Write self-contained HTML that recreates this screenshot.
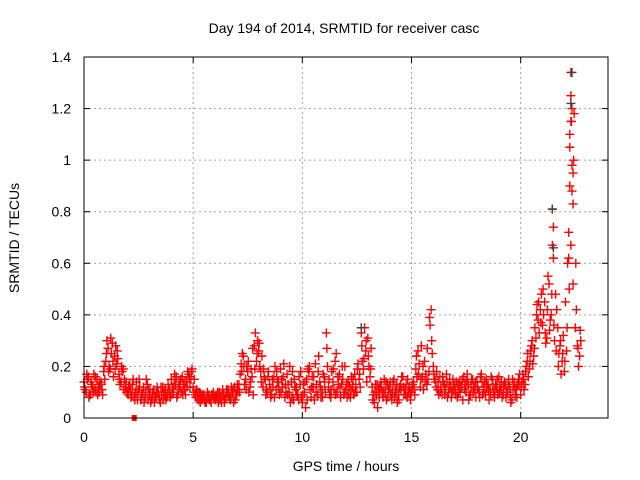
<!DOCTYPE html>
<html><head><meta charset="utf-8"><style>
body{margin:0;background:#fff}
svg{display:block;font-family:"Liberation Sans",sans-serif}
</style></head><body>
<svg id="chart" width="640" height="480" viewBox="0 0 640 480" xmlns="http://www.w3.org/2000/svg">
<rect width="640" height="480" fill="#fff"/>
<text x="344" y="33" font-size="14" text-anchor="middle" fill="#000">Day 194 of 2014, SRMTID for receiver casc</text>
<text transform="translate(19,238) rotate(-90)" font-size="14" text-anchor="middle">SRMTID / TECUs</text>
<text x="346" y="471" font-size="14" text-anchor="middle">GPS time / hours</text>
<g id="grid"></g>
<g id="ticks"></g>
<g id="marks"></g>
<rect x="84" y="57" width="524" height="361" fill="none" stroke="#000" stroke-width="1"/>
</svg>
<script>
const xTicks=[0,5,10,15,20];
const yTicks=[0,0.2,0.4,0.6,0.8,1,1.2,1.4];
const yTickLabels=["0","0.2","0.4","0.6","0.8","1","1.2","1.4"];
const seriesAStart=0, seriesBStart=0.05, seriesCStart=0.025, step=0.1;
const seriesA=[0.14,0.10,0.16,0.09,0.12,0.11,0.15,0.10,0.13,0.18,
0.22,0.27,0.19,0.29,0.24,0.21,0.17,0.14,0.19,0.12,
0.10,0.13,0.09,0.08,0.14,0.11,0.07,0.10,0.08,0.13,
0.09,0.07,0.11,0.08,0.10,0.06,0.12,0.09,0.08,0.11,
0.15,0.10,0.13,0.09,0.12,0.16,0.11,0.14,0.17,0.15,
0.12,0.09,0.08,0.10,0.07,0.09,0.06,0.08,0.07,0.09,
0.07,0.08,0.10,0.06,0.09,0.08,0.11,0.07,0.10,0.12,
0.09,0.13,0.21,0.24,0.15,0.18,0.12,0.16,0.28,0.22,
0.26,0.18,0.12,0.15,0.10,0.13,0.09,0.16,0.11,0.14,
0.19,0.12,0.08,0.17,0.10,0.14,0.07,0.11,0.09,0.13,
0.06,0.10,0.15,0.18,0.08,0.12,0.21,0.09,0.14,0.11,
0.16,0.33,0.12,0.08,0.14,0.22,0.10,0.17,0.13,0.09,
0.11,0.14,0.08,0.12,0.17,0.10,0.15,0.33,0.19,0.26,
0.31,0.16,0.12,0.06,0.09,0.11,0.14,0.08,0.10,0.13,
0.12,0.07,0.15,0.10,0.09,0.13,0.16,0.11,0.08,0.12,
0.10,0.14,0.19,0.26,0.12,0.16,0.22,0.13,0.18,0.42,
0.20,0.14,0.11,0.16,0.09,0.13,0.17,0.10,0.12,0.15,
0.11,0.08,0.14,0.12,0.16,0.10,0.13,0.09,0.15,0.11,
0.14,0.10,0.17,0.12,0.09,0.13,0.11,0.15,0.08,0.12,
0.16,0.11,0.09,0.13,0.10,0.12,0.07,0.14,0.11,0.15,
0.09,0.17,0.13,0.22,0.19,0.28,0.24,0.31,0.38,0.42,
0.36,0.45,0.31,0.52,0.40,0.62,0.48,0.35,0.28,0.22,
0.18,0.26,0.72,1.25,0.95,0.35,0.28,0.24];
const seriesB=[0.11,0.15,0.09,0.13,0.17,0.10,0.12,0.14,0.09,0.15,
0.30,0.20,0.25,0.16,0.28,0.23,0.13,0.18,0.15,0.10,
0.12,0.08,0.15,0.10,0.07,0.12,0.09,0.06,0.15,0.11,
0.06,0.10,0.08,0.12,0.07,0.09,0.10,0.07,0.13,0.08,
0.12,0.17,0.08,0.14,0.10,0.13,0.09,0.18,0.12,0.19,
0.15,0.11,0.07,0.09,0.08,0.06,0.10,0.07,0.09,0.08,
0.09,0.06,0.08,0.11,0.07,0.10,0.08,0.12,0.06,0.09,
0.11,0.17,0.25,0.13,0.20,0.10,0.19,0.09,0.33,0.30,
0.20,0.24,0.16,0.11,0.18,0.08,0.12,0.20,0.14,0.09,
0.15,0.21,0.10,0.13,0.06,0.18,0.12,0.09,0.16,0.08,
0.13,0.04,0.19,0.11,0.16,0.07,0.13,0.24,0.08,0.17,
0.10,0.20,0.09,0.18,0.11,0.25,0.13,0.08,0.15,0.20,
0.08,0.12,0.16,0.09,0.13,0.21,0.12,0.22,0.35,0.14,
0.20,0.27,0.09,0.13,0.04,0.12,0.10,0.15,0.07,0.11,
0.09,0.14,0.11,0.06,0.12,0.16,0.09,0.13,0.10,0.07,
0.13,0.09,0.16,0.21,0.28,0.11,0.17,0.15,0.36,0.25,
0.15,0.18,0.09,0.12,0.14,0.11,0.08,0.15,0.10,0.13,
0.14,0.10,0.12,0.07,0.13,0.17,0.09,0.15,0.12,0.08,
0.11,0.16,0.09,0.14,0.12,0.07,0.16,0.10,0.13,0.09,
0.12,0.08,0.14,0.10,0.15,0.06,0.11,0.09,0.13,0.17,
0.14,0.11,0.20,0.16,0.26,0.21,0.35,0.44,0.33,0.48,
0.40,0.29,0.55,0.38,0.67,0.30,0.42,0.25,0.17,0.32,
0.45,0.60,1.10,0.88,1.18,0.42,0.20,0.30];
const seriesC=[0.12,0.17,0.08,0.14,0.10,0.16,0.09,0.13,0.11,0.20,
0.25,0.18,0.31,0.22,0.19,0.26,0.15,0.20,0.11,0.14,
0.09,0.11,0.13,0.07,0.10,0.15,0.08,0.12,0.10,0.07,
0.11,0.08,0.06,0.10,0.09,0.12,0.07,0.11,0.09,0.10,
0.09,0.13,0.16,0.11,0.15,0.09,0.14,0.12,0.16,0.18,
0.10,0.08,0.10,0.06,0.09,0.07,0.08,0.09,0.06,0.10,
0.08,0.10,0.07,0.09,0.06,0.11,0.09,0.08,0.11,0.07,
0.13,0.10,0.18,0.20,0.11,0.22,0.14,0.27,0.19,0.25,
0.29,0.14,0.19,0.09,0.16,0.11,0.15,0.08,0.18,0.12,
0.10,0.16,0.13,0.09,0.20,0.08,0.15,0.12,0.07,0.18,
0.09,0.14,0.07,0.20,0.12,0.16,0.10,0.18,0.12,0.08,
0.14,0.27,0.15,0.11,0.19,0.09,0.16,0.12,0.20,0.10,
0.13,0.09,0.11,0.15,0.10,0.19,0.17,0.28,0.23,0.30,
0.24,0.19,0.07,0.10,0.13,0.08,0.12,0.10,0.14,0.08,
0.14,0.10,0.08,0.13,0.07,0.11,0.12,0.09,0.15,0.10,
0.12,0.11,0.24,0.17,0.15,0.20,0.14,0.27,0.39,0.30,
0.17,0.12,0.14,0.10,0.16,0.09,0.14,0.12,0.08,0.11,
0.09,0.13,0.10,0.15,0.11,0.14,0.07,0.12,0.10,0.14,
0.12,0.08,0.14,0.10,0.15,0.11,0.09,0.13,0.11,0.15,
0.10,0.14,0.12,0.08,0.13,0.09,0.15,0.12,0.08,0.13,
0.12,0.15,0.18,0.25,0.22,0.30,0.27,0.40,0.45,0.37,
0.50,0.33,0.42,0.34,0.48,0.36,0.26,0.20,0.30,0.25,
0.22,0.35,0.50,1.15,1.00,0.60,0.27,0.34];
const extraHours=[21.45,21.5,22.3,22.25,22.35,22.4,22.2,22.3,22.35,22.3,22.4,22.25];
const extraValues=[0.81,0.74,1.34,1.05,0.98,0.83,0.62,0.67,1.20,1.15,0.52,0.90];
const grayHours=[21.45,22.35,12.7,21.5,22.3];
const grayValues=[0.81,1.34,0.35,0.66,1.22];
const zeroHours=[2.3];
const zeroValues=[0];

const NS="http://www.w3.org/2000/svg";
const X0=84,X1=608,Y0=418,Y1=57,XMAX=24,YMAX=1.4;
function sx(h){return X0+h/XMAX*(X1-X0);}
function sy(v){return Y0-v/YMAX*(Y0-Y1);}
function mk(tag,attrs,parent){const e=document.createElementNS(NS,tag);for(const k in attrs)e.setAttribute(k,attrs[k]);parent.appendChild(e);return e;}
const grid=document.getElementById('grid'),ticks=document.getElementById('ticks'),marks=document.getElementById('marks');
xTicks.forEach(t=>{
  const x=sx(t);
  if(t>0){const g=mk('line',{x1:x,y1:Y1,x2:x,y2:Y0,stroke:'#a0a0a0','stroke-dasharray':'2,3'},grid);
  
  }
  mk('line',{x1:x,y1:Y0,x2:x,y2:Y0-6,stroke:'#000'},ticks);
  mk('line',{x1:x,y1:Y1,x2:x,y2:Y1+6,stroke:'#000'},ticks);
  const l=mk('text',{x:x,y:Y0+24,'font-size':14,'text-anchor':'middle'},ticks);l.textContent=t;
  
  
});
yTicks.forEach((t,i)=>{
  const y=sy(t);
  if(t>0&&t<YMAX){const g=mk('line',{x1:X0,y1:y,x2:X1,y2:y,stroke:'#a0a0a0','stroke-dasharray':'2,3'},grid);
  
  }
  mk('line',{x1:X0,y1:y,x2:X0+6,y2:y,stroke:'#000'},ticks);
  mk('line',{x1:X1,y1:y,x2:X1-6,y2:y,stroke:'#000'},ticks);
  const l=mk('text',{x:X0-13,y:y+5,'font-size':14,'text-anchor':'end'},ticks);l.textContent=yTickLabels[i];
  
  
});
function plus(h,v,color,name){
  const x=sx(h),y=sy(v);
  const p=mk('path',{d:`M${x-4.5},${y}H${x+4.5}M${x},${y-4.5}V${y+4.5}`,stroke:color,'stroke-width':1.4,fill:'none'},marks);
  
  
}
seriesA.forEach((v,i)=>plus(seriesAStart+i*step,v,'#ff0000','point-red'));
seriesB.forEach((v,i)=>plus(seriesBStart+i*step,v,'#ff0000','point-red'));
seriesC.forEach((v,i)=>plus(seriesCStart+i*step,v,'#ff0000','point-red'));
extraHours.forEach((h,i)=>plus(h,extraValues[i],'#ff0000','point-red'));
grayHours.forEach((h,i)=>plus(h,grayValues[i],'#404040','point-gray'));
zeroHours.forEach((h,i)=>{const r=mk('rect',{x:sx(h)-2.5,y:sy(zeroValues[i])-3,width:5,height:6,fill:'#ff0000'},marks);
  
  });
</script>
</body></html>
